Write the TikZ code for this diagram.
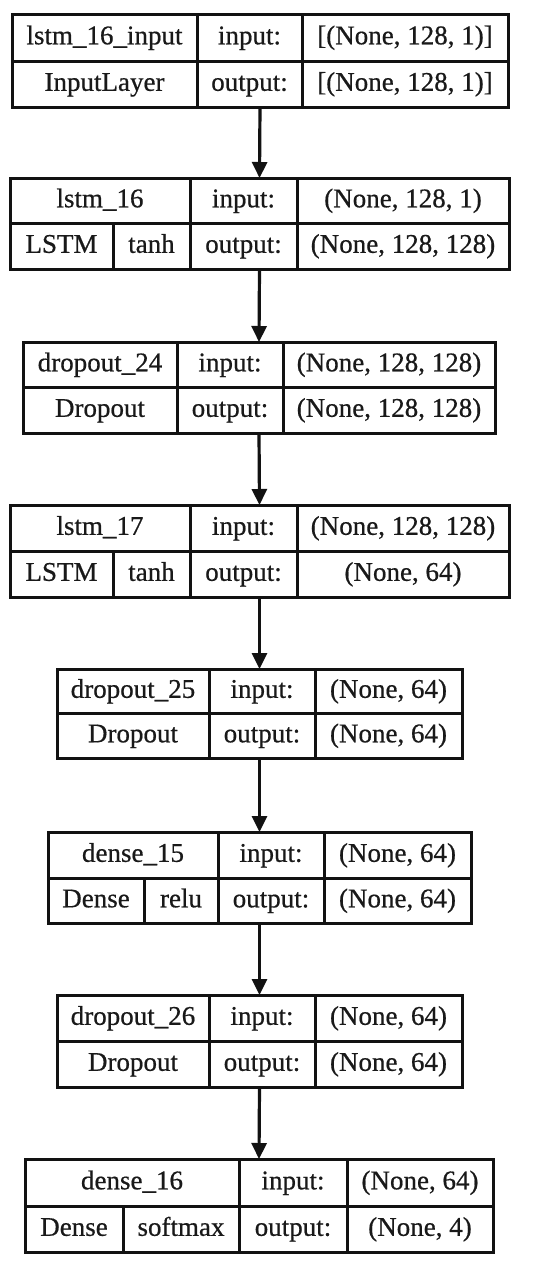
\documentclass[tikz,border=0pt]{standalone}
\usepackage{fontspec}
\setmainfont{Liberation Serif}[FakeBold=0.6]
\usetikzlibrary{arrows.meta,fit}
\newcommand{\cell}[6]{\node[txt] (#1) at ({(#2+#3)/2},{(#4+#5)/2}) {#6};}
\begin{document}
\begin{tikzpicture}[x=0.5pt,y=-0.5pt,
  box/.style={draw=black!93, line width=1.5pt, inner sep=0pt, outer sep=0pt},
  divl/.style={draw=black!93, line width=1.5pt},
  txt/.style={inner sep=0pt, anchor=center, text height=0.68em, text depth=0pt, text=black!90,
    font=\fontsize{13.5}{16}\selectfont},
  arr/.style={draw=black!93, line width=1.6pt, -{Triangle[length=8pt,width=7.5pt]}}]
\useasboundingbox[fill=white] (0,0) rectangle (532,1265);

% ---- layer 1
\node[box, fit={(12,14)(508,107)}] (L1) {};
\draw[divl] (12,61) -- (508,61) (197,14) -- (197,107) (302,14) -- (302,107);
\cell{L1a}{12}{197}{14}{61}{lstm\_16\_input}
\cell{L1b}{197}{302}{14}{61}{input:}
\cell{L1c}{302}{508}{14}{61}{[(None, 128, 1)]}
\cell{L1d}{12}{197}{61}{107}{InputLayer}
\cell{L1e}{197}{302}{61}{107}{output:}
\cell{L1f}{302}{508}{61}{107}{[(None, 128, 1)]}

% ---- layer 2
\node[box, fit={(10,178)(509,269)}] (L2) {};
\draw[divl] (10,223) -- (509,223) (190,178) -- (190,269) (297,178) -- (297,269) (113,223) -- (113,269);
\cell{L2a}{10}{190}{178}{223}{lstm\_16}
\cell{L2b}{190}{297}{178}{223}{input:}
\cell{L2c}{297}{509}{178}{223}{(None, 128, 1)}
\cell{L2d}{10}{113}{223}{269}{LSTM}
\cell{L2e}{113}{190}{223}{269}{tanh}
\cell{L2f}{190}{297}{223}{269}{output:}
\cell{L2g}{297}{509}{223}{269}{(None, 128, 128)}

% ---- layer 3
\node[box, fit={(23,342)(495,433)}] (L3) {};
\draw[divl] (23,387) -- (495,387) (177,342) -- (177,433) (283,342) -- (283,433);
\cell{L3a}{23}{177}{342}{387}{dropout\_24}
\cell{L3b}{177}{283}{342}{387}{input:}
\cell{L3c}{283}{495}{342}{387}{(None, 128, 128)}
\cell{L3d}{23}{177}{387}{433}{Dropout}
\cell{L3e}{177}{283}{387}{433}{output:}
\cell{L3f}{283}{495}{387}{433}{(None, 128, 128)}

% ---- layer 4
\node[box, fit={(10,505)(509,597)}] (L4) {};
\draw[divl] (10,551) -- (509,551) (190,505) -- (190,597) (297,505) -- (297,597) (113,551) -- (113,597);
\cell{L4a}{10}{190}{505}{551}{lstm\_17}
\cell{L4b}{190}{297}{505}{551}{input:}
\cell{L4c}{297}{509}{505}{551}{(None, 128, 128)}
\cell{L4d}{10}{113}{551}{597}{LSTM}
\cell{L4e}{113}{190}{551}{597}{tanh}
\cell{L4f}{190}{297}{551}{597}{output:}
\cell{L4g}{297}{509}{551}{597}{(None, 64)}

% ---- layer 5
\node[box, fit={(57,669)(462,758)}] (L5) {};
\draw[divl] (57,713) -- (462,713) (209,669) -- (209,758) (315,669) -- (315,758);
\cell{L5a}{57}{209}{669}{713}{dropout\_25}
\cell{L5b}{209}{315}{669}{713}{input:}
\cell{L5c}{315}{462}{669}{713}{(None, 64)}
\cell{L5d}{57}{209}{713}{758}{Dropout}
\cell{L5e}{209}{315}{713}{758}{output:}
\cell{L5f}{315}{462}{713}{758}{(None, 64)}

% ---- layer 6
\node[box, fit={(48,832)(471,923)}] (L6) {};
\draw[divl] (48,878) -- (471,878) (218,832) -- (218,923) (324,832) -- (324,923) (144,878) -- (144,923);
\cell{L6a}{48}{218}{832}{878}{dense\_15}
\cell{L6b}{218}{324}{832}{878}{input:}
\cell{L6c}{324}{471}{832}{878}{(None, 64)}
\cell{L6d}{48}{144}{878}{923}{Dense}
\cell{L6e}{144}{218}{878}{923}{relu}
\cell{L6f}{218}{324}{878}{923}{output:}
\cell{L6g}{324}{471}{878}{923}{(None, 64)}

% ---- layer 7
\node[box, fit={(57,995)(462,1087)}] (L7) {};
\draw[divl] (57,1041) -- (462,1041) (209,995) -- (209,1087) (315,995) -- (315,1087);
\cell{L7a}{57}{209}{995}{1041}{dropout\_26}
\cell{L7b}{209}{315}{995}{1041}{input:}
\cell{L7c}{315}{462}{995}{1041}{(None, 64)}
\cell{L7d}{57}{209}{1041}{1087}{Dropout}
\cell{L7e}{209}{315}{1041}{1087}{output:}
\cell{L7f}{315}{462}{1041}{1087}{(None, 64)}

% ---- layer 8
\node[box, fit={(25,1159)(493,1252)}] (L8) {};
\draw[divl] (25,1206) -- (493,1206) (239,1159) -- (239,1252) (347,1159) -- (347,1252) (123,1206) -- (123,1252);
\cell{L8a}{25}{239}{1159}{1206}{dense\_16}
\cell{L8b}{239}{347}{1159}{1206}{input:}
\cell{L8c}{347}{493}{1159}{1206}{(None, 64)}
\cell{L8d}{25}{123}{1206}{1252}{Dense}
\cell{L8e}{123}{239}{1206}{1252}{softmax}
\cell{L8f}{239}{347}{1206}{1252}{output:}
\cell{L8g}{347}{493}{1206}{1252}{(None, 4)}

% ---- connectors
\draw[arr] (L1.south) -- (L2.north);
\draw[arr] (L2.south) -- (L3.north);
\draw[arr] (L3.south) -- (L4.north);
\draw[arr] (L4.south) -- (L5.north);
\draw[arr] (L5.south) -- (L6.north);
\draw[arr] (L6.south) -- (L7.north);
\draw[arr] (L7.south) -- (L8.north);
\end{tikzpicture}
\end{document}
